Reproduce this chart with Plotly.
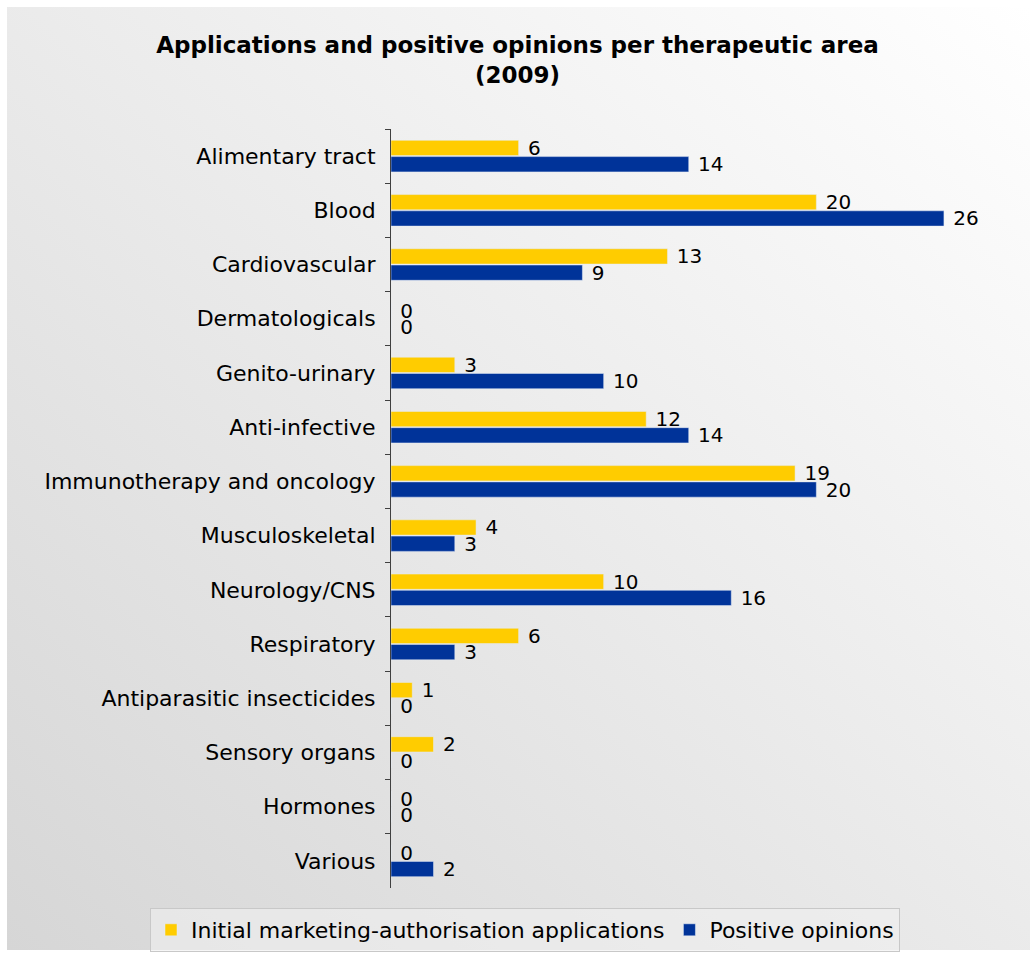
import base64
import plotly.graph_objects as go

categories = ["Alimentary tract", "Blood", "Cardiovascular", "Dermatologicals",
              "Genito-urinary", "Anti-infective", "Immunotherapy and oncology",
              "Musculoskeletal", "Neurology/CNS", "Respiratory",
              "Antiparasitic insecticides", "Sensory organs", "Hormones", "Various"]
applications = [6, 20, 13, 0, 3, 12, 19, 4, 10, 6, 1, 2, 0, 0]
positive_opinions = [14, 26, 9, 0, 10, 14, 20, 3, 16, 3, 0, 0, 0, 2]

FONT = "DejaVu Sans"

svg = ('<svg xmlns="http://www.w3.org/2000/svg" width="100" height="100" preserveAspectRatio="none">'
       '<defs><linearGradient id="g" x1="1" y1="0" x2="0" y2="1">'
       '<stop offset="0" stop-color="#ffffff"/><stop offset="1" stop-color="#d6d6d6"/>'
       '</linearGradient></defs><rect width="100" height="100" fill="url(#g)"/></svg>')
bg_uri = "data:image/svg+xml;base64," + base64.b64encode(svg.encode()).decode()

fig = go.Figure()
fig.add_trace(go.Bar(
    y=categories, x=applications, orientation="h",
    name="Initial marketing-authorisation applications",
    marker_color="#FFCC00", texttemplate="\u00a0%{x}", textposition="outside",
    textfont=dict(family=FONT, size=20, color="black"),
    constraintext="none", cliponaxis=False,
))
fig.add_trace(go.Bar(
    y=categories, x=positive_opinions, orientation="h",
    name="Positive opinions",
    marker_color="#003399", texttemplate="\u00a0%{x}", textposition="outside",
    textfont=dict(family=FONT, size=20, color="black"),
    constraintext="none", cliponaxis=False,
))

W, H = 1035, 954
L, R, T, B = 391, 6, 129, 66
pw, ph = W - L - R, H - T - B

fig.update_layout(
    width=W, height=H,
    margin=dict(l=L, r=R, t=T, b=B, autoexpand=False),
    barmode="group", bargap=0.4, bargroupgap=0.06,
    paper_bgcolor="white", plot_bgcolor="rgba(0,0,0,0)",
    font=dict(family=FONT, size=22, color="black"),
    title=dict(text="<b>Applications and positive opinions per therapeutic area<br>(2009)</b>",
               x=0.5, xanchor="center", y=1 - 53 / H, yanchor="middle",
               font=dict(family=FONT, size=23, color="black")),
    xaxis=dict(range=[0, 30], visible=False, showgrid=False, zeroline=False),
    yaxis=dict(autorange="reversed", showline=True, linecolor="#404040", linewidth=1,
               ticks="outside", ticklen=5, tickcolor="#404040", tickson="boundaries",
               tickfont=dict(family=FONT, size=22, color="black"), showgrid=False,
               ticklabelstandoff=10),
    legend=dict(orientation="h", x=(150 - L) / pw, xanchor="left",
                y=(888 - 930) / ph, yanchor="middle",
                bgcolor="rgba(240,240,240,0.6)", bordercolor="#c8c8c8", borderwidth=1,
                font=dict(family=FONT, size=22, color="black"),
                traceorder="normal", itemwidth=30),
    images=[dict(source=bg_uri, xref="paper", yref="paper",
                 x=(7 - L) / pw, y=(888 - 7) / ph,
                 sizex=(1030 - 7) / pw, sizey=(950 - 7) / ph,
                 xanchor="left", yanchor="top", sizing="stretch", layer="below")],
)

fig.write_html("out.html", config={"displayModeBar": False},
               post_script="document.body.style.margin='0';")
